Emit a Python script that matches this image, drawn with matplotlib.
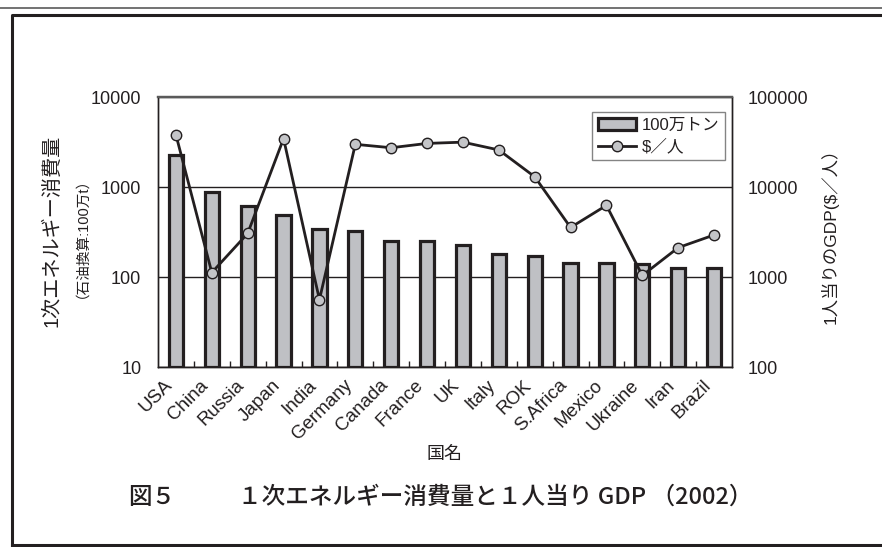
import matplotlib
matplotlib.use("Agg")
import matplotlib.pyplot as plt
from matplotlib.lines import Line2D
from matplotlib.ticker import FixedLocator
import numpy as np

plt.rcParams['font.family'] = ['Liberation Sans', 'Noto Sans CJK JP', 'DejaVu Sans']

countries = ["USA", "China", "Russia", "Japan", "India", "Germany", "Canada", "France",
             "UK", "Italy", "ROK", "S.Africa", "Mexico", "Ukraine", "Iran", "Brazil"]
# primary energy consumption (million t oil equivalent)
energy = [2250, 890, 620, 490, 340, 325, 248, 248, 228, 180, 172, 142, 142, 138, 125, 125]
# GDP per capita ($/person)
gdp = [38000, 1120, 3050, 34500, 560, 29800, 27300, 30500, 31500, 25800, 13000,
       3550, 6250, 1040, 2120, 2930]

left_ticks = [10, 100, 1000, 10000]
right_ticks = [100, 1000, 10000, 100000]

ink = '#231f20'
bar_fill = '#bfc0c4'
dot_fill = '#c4c5c8'
cjk = ['Noto Sans CJK JP', 'DejaVu Sans']

W, H = 882, 547
fig = plt.figure(figsize=(W / 100, H / 100), dpi=100)

ax = fig.add_axes([158 / W, 1 - 367 / H, (732 - 158) / W, (367 - 97) / H])
ax2 = ax.twinx()

x = np.arange(len(countries))
base = left_ticks[0]
bars = ax.bar(x, np.array(energy) - base, bottom=base, width=0.40, color=bar_fill,
              edgecolor=ink, linewidth=2.3, zorder=3, label="100万トン")
ax.set_yscale('log')
ax.set_ylim(left_ticks[0], left_ticks[-1])
ax.set_xlim(-0.5, len(countries) - 0.5)
ax.yaxis.set_major_locator(FixedLocator(left_ticks))
ax.yaxis.set_minor_locator(FixedLocator([]))
ax.set_yticklabels([str(v) for v in left_ticks])
ax.yaxis.grid(True, color=ink, linewidth=1.0, zorder=0)
ax.set_axisbelow(True)

ax.set_xticks(x)
ax.set_xticklabels(countries, rotation=45, ha='right', va='top', fontsize=13.5, color=ink)
ax.xaxis.set_minor_locator(FixedLocator(x[:-1] + 0.5))
ax.tick_params(axis='x', which='major', length=0, pad=7)
ax.tick_params(axis='x', which='minor', direction='in', length=4, width=1, color=ink)
ax.tick_params(axis='y', length=0, pad=12, labelsize=13, labelcolor=ink)

line, = ax2.plot(x, gdp, color=ink, linewidth=2.0, marker='o', markersize=7.5,
                 markerfacecolor=dot_fill, markeredgecolor=ink, markeredgewidth=1.0,
                 zorder=4, label="$／人")
ax2.set_yscale('log')
ax2.set_ylim(right_ticks[0], right_ticks[-1])
ax2.yaxis.set_major_locator(FixedLocator(right_ticks))
ax2.yaxis.set_minor_locator(FixedLocator([]))
ax2.set_yticklabels([str(v) for v in right_ticks])
ax2.tick_params(axis='y', length=0, pad=11.5, labelsize=13, labelcolor=ink)

for a in (ax, ax2):
    for side in ('left', 'right', 'bottom'):
        a.spines[side].set_color(ink)
        a.spines[side].set_linewidth(1.0)
    a.spines['top'].set_color('#5a5a5a')
    a.spines['top'].set_linewidth(1.6)

leg = ax2.legend(handles=[bars, line], loc='upper right', bbox_to_anchor=(0.9885, 0.944),
                 fontsize=12, frameon=True, fancybox=False, edgecolor='#666666',
                 borderpad=0.35, handlelength=2.3, handletextpad=0.35, labelspacing=0.35,
                 borderaxespad=0)
leg.get_frame().set_linewidth(1.0)
for t in leg.get_texts():
    t.set_color(ink)

# axis titles
fig.text(52 / W, 1 - 231 / H, "1次エネルギー消費量", rotation=90, ha='center', va='center',
         fontsize=14.5, color=ink)
fig.text(74 / W, 1 - 230 / H, "（石油換算:100万t）", rotation=90, ha='center', va='center',
         fontsize=10.5, color=ink)
fig.text(830 / W, 1 - 232 / H, "1人当りのGDP($／人）", rotation=90, ha='center', va='center',
         fontsize=12.5, color=ink)
fig.text(445 / W, 1 - 454 / H, "国名", ha='center', va='center', fontsize=13, color=ink)

# caption
fig.text(128 / W, 1 - 497 / H, "図５", ha='left', va='center', fontsize=17,
         color=ink, weight='medium', family=cjk)
fig.text(238 / W, 1 - 497 / H, "１次エネルギー消費量と１人当り GDP （2002）",
         ha='left', va='center', fontsize=17, color=ink, weight='medium', family=cjk)

# page frame
fig.add_artist(Line2D([0, 1], [1 - 8 / H, 1 - 8 / H], transform=fig.transFigure,
                      color='#5a5a5a', linewidth=1.2))
fig.add_artist(Line2D([12 / W, 12 / W, 1.01], [1 - 545 / H, 1 - 15 / H, 1 - 15 / H],
                      transform=fig.transFigure, color=ink, linewidth=2.2))
fig.add_artist(Line2D([12 / W, 1.01], [1 - 545 / H, 1 - 545 / H],
                      transform=fig.transFigure, color=ink, linewidth=2.2))

fig.savefig("out.png", dpi=100)
